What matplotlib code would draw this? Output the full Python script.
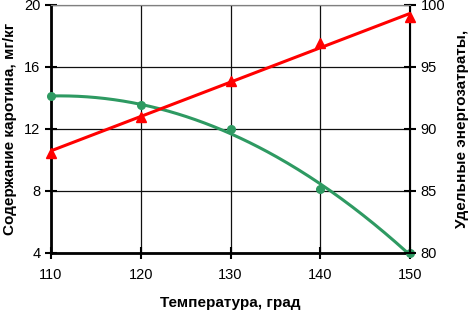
import numpy as np
import matplotlib
matplotlib.use('Agg')
import matplotlib.pyplot as plt

plt.rcParams['font.family'] = ['Liberation Sans', 'DejaVu Sans']

temp = [110, 120, 130, 140, 150]
carotene = [14.1, 13.55, 12.0, 8.1, 4.0]
energy = [88.1, 91.0, 93.9, 96.9, 99.0]

green = '#2e9a62'
red = '#ff0000'

fig = plt.figure(figsize=(4.72, 3.13), dpi=100)
ax = fig.add_axes([51/472, 1 - 253/313, (410-51)/472, (253-5)/313])
ax2 = ax.twinx()

# trend lines like in the spreadsheet: poly2 for carotene, linear for energy
xs = np.linspace(110, 150, 200)
p_car = np.polyfit(temp, carotene, 2)
p_en = np.polyfit(temp, energy, 1)

ax.plot(xs, np.polyval(p_car, xs), color=green, lw=2.2, zorder=3)
ax.plot(temp, carotene, 'o', color=green, ms=5.5, zorder=4, clip_on=False)
ax2.plot(xs, np.polyval(p_en, xs), color=red, lw=2.2, zorder=3)
ax2.plot(temp, energy, '^', color=red, ms=7, zorder=4, clip_on=False)

ax.set_xlim(110, 150)
ax.set_ylim(4, 20)
ax2.set_ylim(80, 100)
ax.set_xticks(temp)
ax.set_yticks([4, 8, 12, 16, 20])
ax2.set_yticks([80, 85, 90, 95, 100])

ax.grid(True, color='#101010', lw=0.9)
ax.set_axisbelow(True)

for a in (ax, ax2):
    a.tick_params(direction='inout', length=8, width=1.5, labelsize=10.5)
ax.tick_params(axis='x', pad=7)
ax.spines['left'].set_linewidth(2)
ax.spines['bottom'].set_linewidth(2)
ax.spines['top'].set_color('#808080')
ax2.spines['right'].set_linewidth(1.5)
ax2.spines['top'].set_color('#808080')
ax2.spines['left'].set_visible(False)
ax2.spines['bottom'].set_visible(False)

ax.set_xlabel('Температура, град', fontsize=11, fontweight='bold', labelpad=10)
ax.set_ylabel('Содержание каротина, мг/кг', fontsize=11, fontweight='bold', labelpad=5)
ax2.set_ylabel('Удельные энергозатраты,', fontsize=11, fontweight='bold')
ax2.yaxis.set_label_coords(1.125, 0.5)

fig.savefig('out.png', dpi=100)
